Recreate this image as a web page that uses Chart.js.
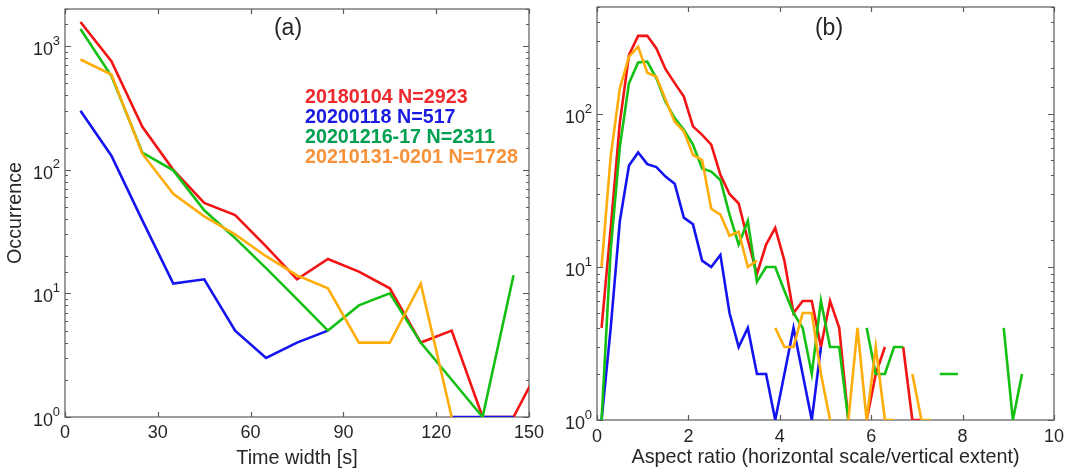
<!DOCTYPE html>
<html>
<head>
<meta charset="utf-8">
<script src="https://cdn.jsdelivr.net/npm/chart.js@4.4.0/dist/chart.umd.min.js"></script>
<style>
	html, body { margin: 0; padding: 0; background: #fff; }
	body { width: 1066px; height: 476px; position: relative; overflow: hidden; }
	canvas { position: absolute; top: 0; }
	#timeChart { left: 0; }
	#aspectChart { left: 540px; }
</style>
</head>
<body>
<canvas id="timeChart" width="560" height="476"></canvas>
<canvas id="aspectChart" width="526" height="476"></canvas>
<script>
// events shown in both panels
const eventNames = ["20180104", "20200118", "20201216-17", "20210131-0201"];
const eventTotals = [2923, 517, 2311, 1728];
const lineColors = ["#f21414", "#1414f0", "#14c014", "#ffad0a"];
const textColors = ["#ee2a2e", "#1a1ae0", "#00a050", "#f7923a"];

//(a) time width, bin centres [s]
const timeBins = [5, 15, 25, 35, 45, 55, 65, 75, 85, 95, 105, 115, 125, 135, 145, 155];
const timeRed = [1570, 757, 223, 100, 54, 43, 24, 13, 19, 15, 11, 4, 5, 1, 1, 3];
const timeBlue = [300, 130, 39, 12, 13, 5, 3, 4, 5, null, null, null, 1, 1, 1, null];
const timeGreen = [1380, 573, 138, 99, 47, 28, 16, 9, 5, 8, 10, 4, 2, 1, 14, null];
const timeOrange = [780, 590, 135, 64, 42, 30, 20, 14, 11, 4, 4, 12, 1, null, null, null];
const timeTicks = [0, 30, 60, 90, 120, 150];

//(b) aspect ratio, bin centres
const aspectBins = [0.1, 0.3, 0.5, 0.7, 0.9, 1.1, 1.3, 1.5, 1.7, 1.9,
	2.1, 2.3, 2.5, 2.7, 2.9, 3.1, 3.3, 3.5, 3.7, 3.9,
	4.1, 4.3, 4.5, 4.7, 4.9, 5.1, 5.3, 5.5, 5.7, 5.9,
	6.1, 6.3, 6.5, 6.7, 6.9, 7.1, 7.3, 7.5, 7.7, 7.9,
	8.1, 8.3, 8.5, 8.7, 8.9, 9.1, 9.3];
const aspectRed = [4, 18, 88, 243, 324, 324, 268, 196, 159, 130,
	83, 73, 63, 40, 30, 26, 15, 9, 14, 18,
	11, 5, 6, 6, 3, 6, 4, 1, null, 1,
	2, 3, null, 3, 1, 1, null, null, null, null,
	null, null, null, null, null, null, null];
const aspectBlue = [1, 4, 20, 46, 56, 47, 45, 39, 35, 21,
	19, 11, 10, 12, 5, 3, 4, 2, 2, 1,
	2, 4, 2, 1, 3, null, null, null, null, null,
	null, null, null, null, null, null, null, null, null, null,
	null, null, null, null, null, null, null];
const aspectGreen = [1, 13, 61, 159, 217, 220, 171, 120, 94, 79,
	63, 44, 42, 37, 22, 14, 20, 8, 10, 10,
	7, 5, 4, 2, 6, 3, 3, 1, null, 4,
	2, 2, 3, 3, null, null, null, 2, 2, 2,
	null, null, null, null, 4, 1, 2];
const aspectOrange = [10, 53, 147, 237, 275, 186, 175, 124, 89, 77,
	54, 50, 24, 22, 16, 17, 10, 11, null, 4,
	3, 3, 5, 5, 2, 1, null, 1, 4, 1,
	3, 1, 1, null, 2, 1, 1, null, null, null,
	null, null, null, null, null, null, null];
const aspectTicks = [0, 2, 4, 6, 8, 10];

Chart.defaults.font.family = "'Liberation Sans', Arial, sans-serif";
Chart.defaults.color = "#262626";

function decade(v) {
	const e = Math.log10(v);
	return Math.abs(e - Math.round(e)) < 1e-6 ? Math.round(e) : null;
}

function makeSets(bins, series) {
	return series.map((vals, i) => ({
		label: eventNames[i],
		data: bins.map((x, j) => ({ x: x, y: vals[j] })),
		borderColor: lineColors[i],
		borderWidth: 2.6,
		pointRadius: 0,
		fill: false,
		tension: 0,
		order: 3 - i,
	}));
}

// box round the plot with inward ticks, like matlab
const boxAxes = {
	id: "boxAxes",
	beforeDatasetsDraw(chart) {
		const { ctx, chartArea: a, scales } = chart;
		ctx.save();
		ctx.strokeStyle = "#5a5a5a";
		ctx.lineWidth = 1.2;
		ctx.strokeRect(a.left, a.top, a.right - a.left, a.bottom - a.top);
		ctx.beginPath();
		scales.x.ticks.forEach((t) => {
			const px = Math.round(scales.x.getPixelForValue(t.value)) + 0.5;
			ctx.moveTo(px, a.bottom); ctx.lineTo(px, a.bottom - 5);
			ctx.moveTo(px, a.top); ctx.lineTo(px, a.top + 5);
		});
		scales.y.ticks.forEach((t) => {
			const len = decade(t.value) !== null ? 6 : 3;
			const py = Math.round(scales.y.getPixelForValue(t.value)) + 0.5;
			ctx.moveTo(a.left, py); ctx.lineTo(a.left + len, py);
			ctx.moveTo(a.right, py); ctx.lineTo(a.right - len, py);
		});
		ctx.stroke();

		// exponents of the 10^n tick labels
		ctx.fillStyle = "#262626";
		ctx.font = "13px 'Liberation Sans', Arial, sans-serif";
		ctx.textAlign = "right";
		ctx.textBaseline = "middle";
		scales.y.ticks.forEach((t) => {
			const e = decade(t.value);
			if (e === null) return;
			ctx.fillText(String(e), a.left - 5, scales.y.getPixelForValue(t.value) - 5);
		});
		ctx.restore();
	},
};

// panel tag and coloured event list
const panelText = {
	id: "panelText",
	afterDraw(chart, args, opts) {
		const ctx = chart.ctx;
		ctx.save();
		ctx.fillStyle = "#262626";
		ctx.textAlign = "center";
		ctx.textBaseline = "middle";
		ctx.font = "23px 'Liberation Sans', Arial, sans-serif";
		ctx.fillText(opts.tag, opts.tagX, 29);
		if (opts.legend) {
			ctx.textAlign = "left";
			ctx.font = "bold 19.7px 'Liberation Sans', Arial, sans-serif";
			eventNames.forEach((name, i) => {
				ctx.fillStyle = textColors[i];
				ctx.fillText(name + " N=" + eventTotals[i], 305, 98 + i * 20);
			});
		}
		ctx.restore();
	},
};

function noPad(s) {
	s.paddingTop = 0;
	s.paddingBottom = 0;
	s.paddingLeft = 0;
	s.paddingRight = 0;
}

function makeConfig(bins, series, opt) {
	return {
		type: "line",
		data: { datasets: makeSets(bins, series) },
		plugins: [boxAxes, panelText],
		options: {
			responsive: false,
			animation: false,
			layout: { padding: opt.pad },
			plugins: {
				legend: { display: false },
				tooltip: { enabled: false },
				panelText: { tag: opt.tag, tagX: opt.tagX, legend: opt.legend },
			},
			scales: {
				x: {
					type: "linear",
					min: opt.xTicks[0],
					max: opt.xTicks[opt.xTicks.length - 1],
					afterBuildTicks: (s) => { s.ticks = opt.xTicks.map((v) => ({ value: v })); },
					grid: { display: false, drawTicks: false },
					border: { display: false },
					ticks: { font: { size: 18 }, padding: opt.xPad, maxRotation: 0 },
					title: { display: true, text: opt.xTitle, font: { size: 19.8 }, padding: { top: 0, bottom: opt.titlePad } },
					afterFit: (s) => { s.height = opt.xHeight; noPad(s); },
				},
				y: {
					type: "logarithmic",
					min: 1,
					max: opt.yMax,
					grid: { display: false, drawTicks: false },
					border: { display: false },
					ticks: {
						autoSkip: false,
						font: { size: 18 },
						padding: 12,
						labelOffset: 4,
						callback: (v) => (decade(v) !== null ? "10" : ""),
					},
					title: { display: !!opt.yTitle, text: opt.yTitle, font: { size: 19.8 }, padding: { top: 4, bottom: 0 } },
					afterFit: (s) => { s.width = opt.yWidth; noPad(s); },
				},
			},
		},
	};
}

const timeChart = new Chart(
	document.getElementById("timeChart"),
	makeConfig(timeBins, [timeRed, timeBlue, timeGreen, timeOrange], {
		xTicks: timeTicks, yMax: 2000, tag: "(a)", tagX: 288, legend: true,
		xTitle: "Time width [s]", yTitle: "Occurrence",
		pad: { left: 0, top: 9, right: 31, bottom: 0 },
		yWidth: 65, xHeight: 59, xPad: 5, titlePad: 6,
	})
);

const aspectChart = new Chart(
	document.getElementById("aspectChart"),
	makeConfig(aspectBins, [aspectRed, aspectBlue, aspectGreen, aspectOrange], {
		xTicks: aspectTicks, yMax: 500, tag: "(b)", tagX: 289, legend: false,
		xTitle: "Aspect ratio (horizontal scale/vertical extent)", yTitle: "",
		pad: { left: 0, top: 7, right: 12, bottom: 0 },
		yWidth: 57, xHeight: 56, xPad: 6, titlePad: 7,
	})
);
</script>
</body>
</html>
